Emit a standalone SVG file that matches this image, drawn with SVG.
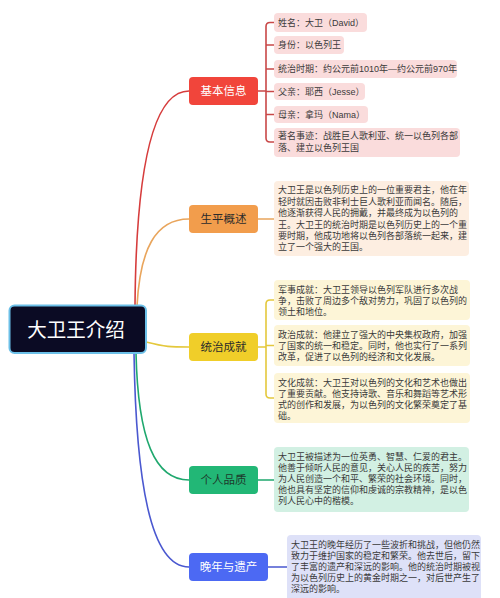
<svg xmlns="http://www.w3.org/2000/svg" width="500" height="598" viewBox="0 0 500 598">
<style>
text{font-family:"Liberation Sans","Noto Sans CJK SC",sans-serif;}
.leaf{font-size:9px;fill:#3a3a3a;}
.br{font-size:11.5px;text-anchor:middle;dominant-baseline:central;}
.c{fill:none;stroke-width:1.6;stroke-linecap:round;}
</style>
<rect width="500" height="598" fill="#ffffff"/>
<g id="connectors">
<path class="c" stroke="#d63c3c" d="M135,306 C136,180 150,91 189,91"/>
<path class="c" stroke="#e9a55c" d="M137,306 C140,250 155,219 189,219"/>
<path class="c" stroke="#e4c83c" d="M146,342 C166,347 170,347 189,347"/>
<path class="c" stroke="#1fa86e" d="M136,353 C138,440 155,480 189,480"/>
<path class="c" stroke="#4a58d0" d="M134,353 C136,480 150,567 189,567"/>
<path class="c" stroke="#c94848" d="M258,91 H266 M274,22.5 H270 Q266,22.5 266,26.5 V138 Q266,142 270,142 H274 M266,45 H274 M266,69 H274 M266,91.5 H274 M266,114.5 H274"/>
<path class="c" stroke="#e9a55c" d="M258,219 H274"/>
<path class="c" stroke="#e4c83c" d="M258,347 H266 M274,300 H270 Q266,300 266,304 V394 Q266,398 270,398 H274 M266,345.5 H274"/>
<path class="c" stroke="#1fa86e" d="M258,480 H274"/>
<path class="c" stroke="#4a58d0" d="M268,567 H287"/>
</g>
<g id="root">
<rect x="9.5" y="305.5" width="136.5" height="47.5" rx="5" fill="#0b0b24" stroke="#6cc0e8" stroke-width="2"/>
<text x="76" y="330" font-size="19.5" fill="#ffffff" text-anchor="middle" dominant-baseline="central">大卫王介绍</text>
</g>
<g id="basic">
<rect x="189" y="77" width="69" height="28" rx="4" fill="#f1453b"/>
<text class="br" x="223.5" y="91" fill="#ffffff">基本信息</text>
</g>
<g id="basic-items" class="leaf">
<rect x="274" y="13" width="93" height="19" rx="4" fill="#fadcdc"/>
<text x="278" y="25.8">姓名：大卫（David）</text>
<rect x="274" y="36" width="70" height="18" rx="4" fill="#fadcdc"/>
<text x="278" y="48.2">身份：以色列王</text>
<rect x="274" y="60" width="183" height="18" rx="4" fill="#fadcdc"/>
<text x="278" y="72.2">统治时期：约公元前1010年—约公元前970年</text>
<rect x="274" y="83" width="91" height="17" rx="4" fill="#fadcdc"/>
<text x="278" y="94.7">父亲：耶西（Jesse）</text>
<rect x="274" y="106" width="94" height="17" rx="4" fill="#fadcdc"/>
<text x="278" y="117.7">母亲：拿玛（Nama）</text>
<rect x="274" y="128" width="186" height="29" rx="4" fill="#fadcdc"/>
<text x="278" y="139.2">著名事迹：战胜巨人歌利亚、统一以色列各部<tspan x="278" dy="12">落、建立以色列王国</tspan></text>
</g>
<g id="life">
<rect x="189" y="205" width="69" height="28" rx="4" fill="#f29d4c"/>
<text class="br" x="223.5" y="219" fill="#2b2b2b">生平概述</text>
</g>
<g id="life-text" class="leaf">
<rect x="274" y="181" width="195" height="75" rx="4" fill="#fdeee1"/>
<text x="278" y="193.3">大卫王是以色列历史上的一位重要君主，他在年<tspan x="278" dy="11.4">轻时就因击败非利士巨人歌利亚而闻名。随后，</tspan><tspan x="278" dy="11.4">他逐渐获得人民的拥戴，并最终成为以色列的</tspan><tspan x="278" dy="11.4">王。大卫王的统治时期是以色列历史上的一个重</tspan><tspan x="278" dy="11.4">要时期，他成功地将以色列各部落统一起来，建</tspan><tspan x="278" dy="11.4">立了一个强大的王国。</tspan></text>
</g>
<g id="rule">
<rect x="189" y="333" width="69" height="28" rx="4" fill="#f0ce29"/>
<text class="br" x="223.5" y="347" fill="#2b2b2b">统治成就</text>
</g>
<g id="rule-items" class="leaf">
<rect x="274" y="280" width="196" height="40" rx="4" fill="#fdf5d7"/>
<text x="278" y="293">军事成就：大卫王领导以色列军队进行多次战<tspan x="278" dy="11">争，击败了周边多个敌对势力，巩固了以色列的</tspan><tspan x="278" dy="11">领土和地位。</tspan></text>
<rect x="274" y="325" width="196" height="41" rx="4" fill="#fdf5d7"/>
<text x="278" y="338.2">政治成就：他建立了强大的中央集权政府，加强<tspan x="278" dy="11">了国家的统一和稳定。同时，他也实行了一系列</tspan><tspan x="278" dy="11">改革，促进了以色列的经济和文化发展。</tspan></text>
<rect x="274" y="373" width="196" height="50" rx="4" fill="#fdf5d7"/>
<text x="278" y="385.5">文化成就：大卫王对以色列的文化和艺术也做出<tspan x="278" dy="11">了重要贡献。他支持诗歌、音乐和舞蹈等艺术形</tspan><tspan x="278" dy="11">式的创作和发展，为以色列的文化繁荣奠定了基</tspan><tspan x="278" dy="11">础。</tspan></text>
</g>
<g id="character">
<rect x="189" y="466" width="69" height="28" rx="4" fill="#22b776"/>
<text class="br" x="223.5" y="480" fill="#1e3a2c">个人品质</text>
</g>
<g id="character-text" class="leaf">
<rect x="274" y="447" width="195" height="65" rx="4" fill="#d2f0e3"/>
<text x="278" y="460.3">大卫王被描述为一位英勇、智慧、仁爱的君主。<tspan x="278" dy="10.8">他善于倾听人民的意见，关心人民的疾苦，努力</tspan><tspan x="278" dy="10.8">为人民创造一个和平、繁荣的社会环境。同时，</tspan><tspan x="278" dy="10.8">他也具有坚定的信仰和虔诚的宗教精神，是以色</tspan><tspan x="278" dy="10.8">列人民心中的楷模。</tspan></text>
</g>
<g id="legacy">
<rect x="189" y="553" width="79" height="28" rx="4" fill="#4c69f3"/>
<text class="br" x="228.5" y="567" fill="#ffffff">晚年与遗产</text>
</g>
<g id="legacy-text" class="leaf">
<rect x="287" y="535" width="194" height="66" rx="4" fill="#dee1f8"/>
<text x="291" y="548.3">大卫王的晚年经历了一些波折和挑战，但他仍然<tspan x="291" dy="11">致力于维护国家的稳定和繁荣。他去世后，留下</tspan><tspan x="291" dy="11">了丰富的遗产和深远的影响。他的统治时期被视</tspan><tspan x="291" dy="11">为以色列历史上的黄金时期之一，对后世产生了</tspan><tspan x="291" dy="11">深远的影响。</tspan></text>
</g>
</svg>
